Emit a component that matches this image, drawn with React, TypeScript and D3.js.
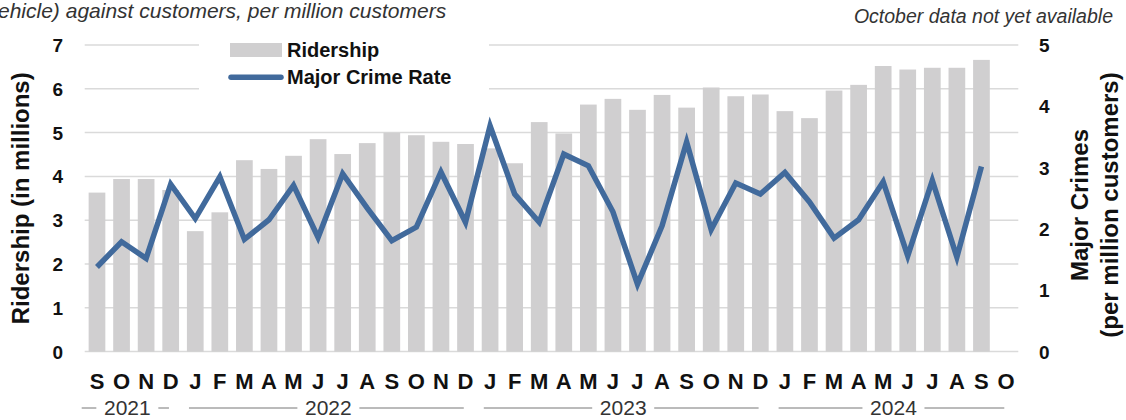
import React from "react";
import * as d3 from "d3";

const months = ["S","O","N","D","J","F","M","A","M","J","J","A","S","O","N","D","J","F","M","A","M","J","J","A","S","O","N","D","J","F","M","A","M","J","J","A","S","O"];
const ridership: (number | null)[] = [
  3.63, 3.94, 3.94, 3.69,
  2.75, 3.18, 4.37, 4.17, 4.47, 4.85, 4.51, 4.76, 5.0, 4.94, 4.79, 4.74,
  4.64, 4.30, 5.24, 4.98, 5.64, 5.77, 5.52, 5.86, 5.57, 6.03, 5.83, 5.87,
  5.49, 5.33, 5.96, 6.09, 6.52, 6.44, 6.48, 6.48, 6.66, null,
];
const crimeRate: (number | null)[] = [
  1.38, 1.79, 1.52, 2.73,
  2.17, 2.85, 1.83, 2.15, 2.71, 1.86, 2.90, 2.34, 1.81, 2.03, 2.93, 2.11,
  3.68, 2.57, 2.11, 3.22, 3.03, 2.28, 1.10, 2.05, 3.42, 1.99, 2.75, 2.57,
  2.92, 2.44, 1.85, 2.15, 2.77, 1.56, 2.79, 1.54, 3.02, null,
];
const yearLabels = ["2021", "2022", "2023", "2024"];
const yearMonthCounts = [4, 12, 12, 10];
const leftTicks = [0, 1, 2, 3, 4, 5, 6, 7];
const rightTicks = [0, 1, 2, 3, 4, 5];

const W = 1126;
const H = 420;
const FONT = "'Liberation Sans', Arial, Helvetica, sans-serif";
const BAR = "#d0cfd0";
const LINE = "#416a9c";
const GRID = "#dadada";

export default function App() {
  const ids = months.map((_, i) => String(i));
  const x = d3.scaleBand<string>().domain(ids).range([84.7, 1018.3]).paddingInner(0.32).paddingOuter(0.16);
  const yL = d3.scaleLinear().domain([0, 7]).range([351.6, 45]);
  const yR = d3.scaleLinear().domain([0, 5]).range([351.6, 45]);
  const step = x.step();
  const bandStart = 84.7;

  const line = d3
    .line<number | null>()
    .defined((d) => d != null)
    .x((_, i) => (x(ids[i]) as number) + x.bandwidth() / 2)
    .y((d) => yR(d as number));

  const groups: { label: string; x0: number; x1: number }[] = [];
  let acc = 0;
  yearMonthCounts.forEach((n, gi) => {
    const s = bandStart + acc * step;
    const e = bandStart + (acc + n) * step;
    groups.push({ label: yearLabels[gi], x0: gi === 0 ? s - 3 : s + 6, x1: e - 14 });
    acc += n;
  });

  return (
    <svg width={W} height={H} style={{ position: "absolute", left: 0, top: 0, background: "#fff" }} fontFamily={FONT}>
      <text x={-2} y={18} fontSize={21} fontStyle="italic" fill="#333">
        ehicle) against customers, per million customers
      </text>
      <text x={1113} y={23} fontSize={19.5} fontStyle="italic" fill="#333" textAnchor="end">
        October data not yet available
      </text>

      {leftTicks.map((t) => (
        <line key={"g" + t} x1={84.7} x2={1018.3} y1={yL(t)} y2={yL(t)} stroke={GRID} strokeWidth={1.5} />
      ))}

      {ridership.map((v, i) =>
        v == null ? null : (
          <rect key={"b" + i} x={x(ids[i])} y={yL(v)} width={x.bandwidth()} height={yL(0) - yL(v)} fill={BAR} />
        )
      )}

      <path d={line(crimeRate) || ""} fill="none" stroke={LINE} strokeWidth={5.5} strokeLinejoin="miter" strokeMiterlimit={6} />

      {/* legend */}
      <rect x={199} y={31} width={290} height={68} fill="#fff" />
      <rect x={230} y={43} width={52} height={14} fill={BAR} />
      <text x={287} y={57} fontSize={20} fontWeight="bold" fill="#111">Ridership</text>
      <line x1={231} x2={281} y1={77.3} y2={77.3} stroke={LINE} strokeWidth={5.5} strokeLinecap="round" />
      <text x={287} y={84.3} fontSize={20} fontWeight="bold" fill="#111">Major Crime Rate</text>

      {/* left axis */}
      {leftTicks.map((t) => (
        <text key={"l" + t} x={63} y={yL(t) + 7} fontSize={19} fontWeight="bold" textAnchor="end" fill="#111">
          {t}
        </text>
      ))}
      <text transform={`translate(29,${(yL(0) + yL(7)) / 2}) rotate(-90)`} fontSize={24} fontWeight="bold" textAnchor="middle" fill="#111">
        Ridership (in millions)
      </text>

      {/* right axis */}
      {rightTicks.map((t) => (
        <text key={"r" + t} x={1039} y={yR(t) + 7} fontSize={19} fontWeight="bold" fill="#111">
          {t}
        </text>
      ))}
      <text transform={`translate(1088,205) rotate(-90)`} fontSize={24} fontWeight="bold" textAnchor="middle" fill="#111">
        Major Crimes
      </text>
      <text transform={`translate(1118,205) rotate(-90)`} fontSize={24} fontWeight="bold" textAnchor="middle" fill="#111">
        (per million customers)
      </text>

      {/* month labels */}
      {months.map((m, i) => (
        <text key={"m" + i} x={(x(ids[i]) as number) + x.bandwidth() / 2} y={388.5} fontSize={22} fontWeight="bold" textAnchor="middle" fill="#111">
          {m}
        </text>
      ))}

      {/* year labels */}
      {groups.map((g) => {
        const cx = (g.x0 + g.x1) / 2 + 2;
        return (
          <g key={g.label}>
            <line x1={g.x0} x2={cx - 31} y1={408} y2={408} stroke="#777" strokeWidth={1} />
            <line x1={cx + 31} x2={g.x1} y1={408} y2={408} stroke="#777" strokeWidth={1} />
            <text x={cx} y={415} fontSize={21} textAnchor="middle" fill="#333">
              {g.label}
            </text>
          </g>
        );
      })}
    </svg>
  );
}
